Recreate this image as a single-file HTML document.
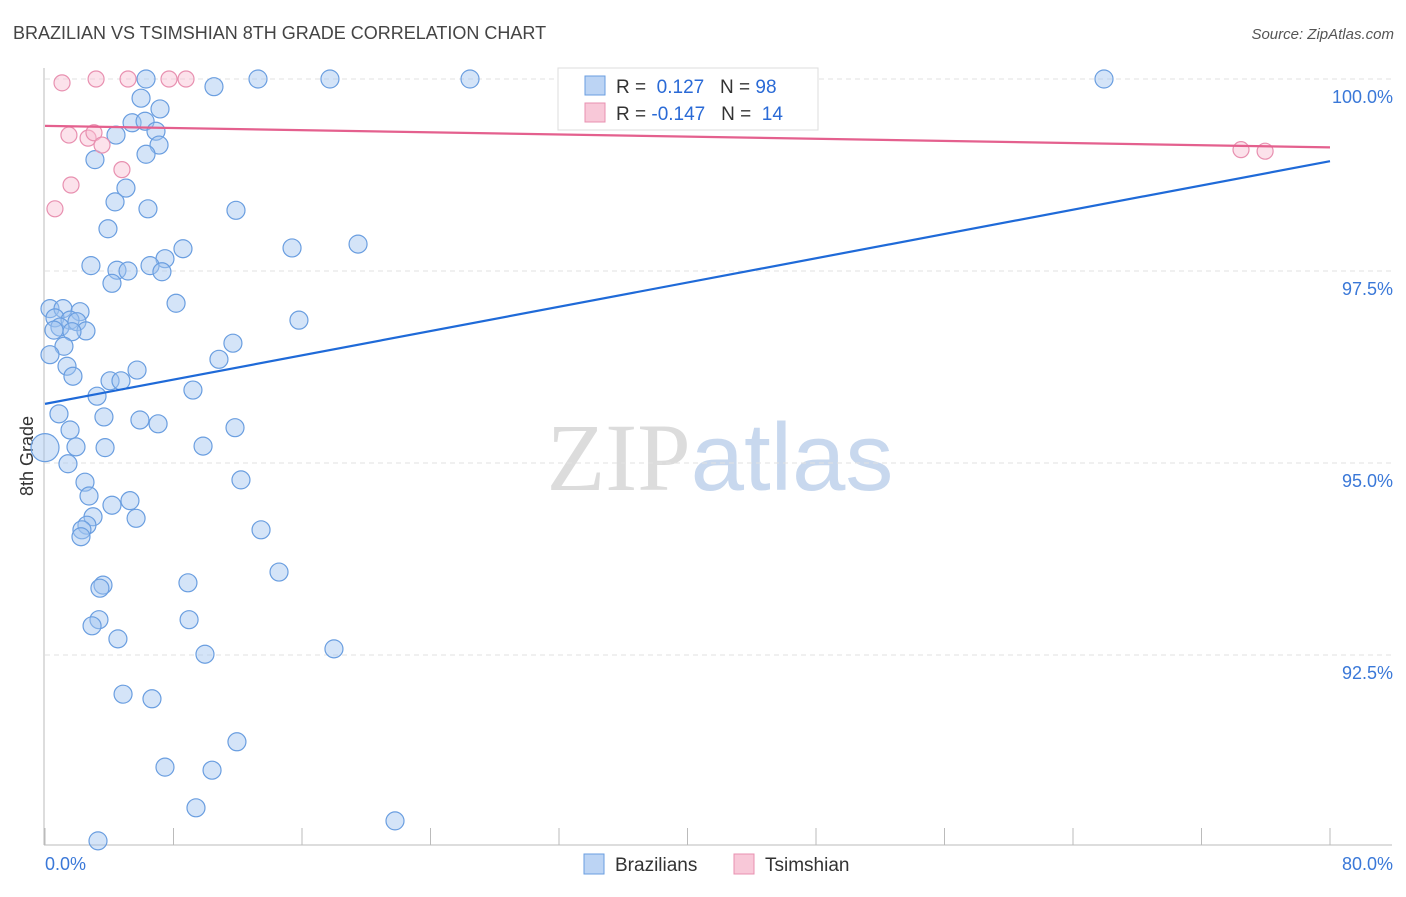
<!DOCTYPE html>
<html><head><meta charset="utf-8"><style>
body{margin:0;background:#fff;font-family:"Liberation Sans",sans-serif;}
svg text{font-family:"Liberation Sans",sans-serif;}
</style></head><body>
<svg id="chart" width="1406" height="892" xmlns="http://www.w3.org/2000/svg">
<text x="13" y="39" font-size="18" fill="#444">BRAZILIAN VS TSIMSHIAN 8TH GRADE CORRELATION CHART</text>
<text x="1394" y="39" font-size="15" fill="#555" text-anchor="end" font-style="italic">Source: ZipAtlas.com</text>
<text x="720" y="490" font-size="96" text-anchor="middle"><tspan fill="#dcdcdc" font-family="Liberation Serif">ZIP</tspan><tspan fill="#c8d8ee">atlas</tspan></text>
<text transform="translate(33,456) rotate(-90)" font-size="18" fill="#333" text-anchor="middle">8th Grade</text>
<g id="grid"></g><g id="axes"></g><g id="marks"></g>
<g>
<rect x="558" y="68" width="260" height="62" fill="#fff" stroke="#ddd"/>
<rect x="585" y="76" width="20" height="19" fill="#bcd4f4" stroke="#6a9ee0"/>
<text x="616" y="93" font-size="19" fill="#333">R = <tspan fill="#2a6ad6">&#160;0.127</tspan>&#160;&#160;&#160;N = <tspan fill="#2a6ad6">98</tspan></text>
<rect x="585" y="103" width="20" height="19" fill="#f8c8d8" stroke="#e890b0"/>
<text x="616" y="120" font-size="19" fill="#333">R = <tspan fill="#2a6ad6">-0.147</tspan>&#160;&#160;&#160;N = <tspan fill="#2a6ad6">&#160;14</tspan></text>
</g>
<g>
<rect x="584" y="854" width="20" height="20" fill="#bcd4f4" stroke="#6a9ee0"/>
<text x="615" y="871" font-size="19" fill="#333">Brazilians</text>
<rect x="734" y="854" width="20" height="20" fill="#f8c8d8" stroke="#e890b0"/>
<text x="765" y="871" font-size="19" fill="#333">Tsimshian</text>
</g>
</svg>
<script>
const xTicks=[0,10,20,30,40,50,60,70,80];
const yTicks=[92.5,95,97.5,100];
const yTickLabels=["92.5%","95.0%","97.5%","100.0%"];
const brazX=[6.29,13.26,17.74,26.46,65.93,10.52,5.98,7.16,5.42,6.23,4.42,6.91,7.10,6.29,3.11,5.04,4.36,6.41,11.89,3.92,8.59,15.38,19.49,2.86,7.47,6.54,4.48,5.17,7.28,4.17,8.16,0.31,1.12,2.18,0.62,1.56,1.99,0.93,2.55,1.68,0.56,15.81,11.70,1.18,0.31,10.83,1.37,1.74,5.73,4.05,4.73,9.21,3.24,0.87,3.67,5.91,7.04,11.83,1.56,1.93,3.74,9.84,0,1.43,12.20,2.49,2.74,5.29,4.17,2.99,5.67,2.61,2.30,2.24,13.45,14.57,8.90,3.61,3.42,8.97,3.36,2.93,4.54,9.96,17.99,4.86,6.66,11.95,7.47,10.40,9.40,21.79,3.30];
const brazY=[100,100,100,100,100,99.90,99.75,99.61,99.43,99.45,99.27,99.32,99.14,99.02,98.95,98.58,98.40,98.31,98.29,98.05,97.79,97.80,97.85,97.57,97.66,97.57,97.51,97.50,97.49,97.34,97.08,97.01,97.01,96.97,96.89,96.86,96.84,96.77,96.72,96.71,96.73,96.86,96.56,96.52,96.41,96.35,96.26,96.13,96.21,96.07,96.07,95.95,95.87,95.64,95.60,95.56,95.51,95.46,95.43,95.21,95.20,95.22,95.20,94.99,94.78,94.75,94.57,94.51,94.45,94.30,94.28,94.19,94.13,94.04,94.13,93.58,93.44,93.41,93.37,92.96,92.96,92.88,92.71,92.51,92.58,91.99,91.93,91.37,91.04,91.00,90.51,90.34,90.08];
const tsimX=[1.06,3.18,5.17,7.72,8.78,0.62,1.62,1.49,2.68,3.05,3.55,4.79,74.46,75.96];
const tsimY=[99.95,100,100,100,100,98.31,98.62,99.27,99.23,99.30,99.14,98.82,99.08,99.06];
const brazTrend=[95.77,98.93];
const tsimTrend=[99.39,99.11];
const NS="http://www.w3.org/2000/svg";
const X=v=>45+v/80*1285;
const Y=v=>79+(100-v)/2.5*192;
function mk(tag,attrs,parent){const e=document.createElementNS(NS,tag);for(const k in attrs)e.setAttribute(k,attrs[k]);document.getElementById(parent).appendChild(e);return e;}
yTicks.forEach((t,i)=>{
 const l=mk('line',{x1:45,x2:1392,y1:Y(t),y2:Y(t),stroke:'#e2e2e2','stroke-dasharray':'5,4'},'grid');
 
 
 const tx=mk('text',{x:1393,y:Y(t)+24,'font-size':18,fill:'#3a78d8','text-anchor':'end'},'grid');
 tx.textContent=yTickLabels[i];
 
 
});
const ax=mk('line',{x1:44,x2:44,y1:68,y2:845,stroke:'#bbb'},'axes');


const bx=mk('line',{x1:44,x2:1392,y1:845,y2:845,stroke:'#bbb'},'axes');


for(let v=0;v<=80;v+=80/10){
 const t=mk('line',{x1:X(v),x2:X(v),y1:828,y2:845,stroke:'#bbb'},'axes');
 
 
}
const xl=mk('text',{x:45,y:870,'font-size':18,fill:'#3a78d8'},'axes');xl.textContent=xTicks[0].toFixed(1)+'%';


const xr=mk('text',{x:1393,y:870,'font-size':18,fill:'#3a78d8','text-anchor':'end'},'axes');xr.textContent=xTicks[xTicks.length-1].toFixed(1)+'%';


brazX.forEach((x,i)=>{
 const r=(x===0)?14:9;
 const c=mk('circle',{cx:X(x),cy:Y(brazY[i]),r:r,fill:'rgba(160,196,240,0.45)',stroke:'#6a9ee0','stroke-width':1.2},'marks');
 
 
});
tsimX.forEach((x,i)=>{
 const c=mk('circle',{cx:X(x),cy:Y(tsimY[i]),r:8,fill:'rgba(248,190,210,0.45)',stroke:'#e890b0','stroke-width':1.2},'marks');
 
 
});
const bl=mk('line',{x1:X(0),y1:Y(brazTrend[0]),x2:X(80),y2:Y(brazTrend[1]),stroke:'#1f6ad8','stroke-width':2.2},'marks');


const pl=mk('line',{x1:X(0),y1:Y(tsimTrend[0]),x2:X(80),y2:Y(tsimTrend[1]),stroke:'#e4608e','stroke-width':2.2},'marks');


</script>
</body></html>
